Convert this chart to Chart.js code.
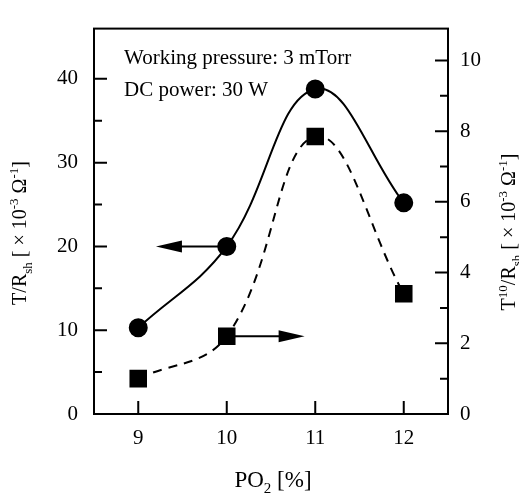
<!DOCTYPE html>
<html>
<head>
<meta charset="utf-8">
<script src="https://cdn.jsdelivr.net/npm/chart.js@4/dist/chart.umd.min.js"></script>
<style>
  body { margin: 0; background: #fff; }
  canvas { display: block; }
</style>
</head>
<body>
<canvas id="grafico" width="519" height="495"></canvas>
<script>
// data
const oxygen = [9, 10, 11, 12];              // PO2 [%]
const transRatio = [10.3, 20, 38.8, 25.2];   // T/Rsh, left axis
const transRatio10 = [1.0, 2.2, 7.85, 3.4];  // T^10/Rsh, right axis
const leftTicks = [0, 10, 20, 30, 40];
const leftMinor = [5, 15, 25, 35];
const rightTicks = [0, 2, 4, 6, 8, 10];
const rightMinor = [1, 3, 5, 7, 9];
const notes = ['Working pressure: 3 mTorr', 'DC power: 30 W'];

const serif = '"Liberation Serif", "DejaVu Serif", serif';

function drawRich(ctx, segs, x, y, size) {
    // segs: [text, kind] kind = n | sub | sup ; centred on x, baseline y
    const parts = segs.map(([t, k]) => {
        const s = k === 'n' ? size : Math.round(size * 0.66);
        ctx.font = s + 'px ' + serif;
        return { t, k, s, w: ctx.measureText(t).width };
    });
    const total = parts.reduce((a, p) => a + p.w, 0);
    let cx = x - total / 2;
    parts.forEach(p => {
        ctx.font = p.s + 'px ' + serif;
        let dy = 0;
        if (p.k === 'sub') dy = size * 0.28;
        if (p.k === 'sup') dy = -size * 0.38;
        ctx.fillText(p.t, cx, y + dy);
        cx += p.w;
    });
}

function arrow(ctx, x0, y0, x1, y1) {
    const dir = Math.sign(x1 - x0);
    ctx.beginPath();
    ctx.moveTo(x0, y0);
    ctx.lineTo(x1 - dir * 20, y1);
    ctx.stroke();
    ctx.beginPath();
    ctx.moveTo(x1, y1);
    ctx.lineTo(x1 - dir * 26, y1 - 6);
    ctx.lineTo(x1 - dir * 26, y1 + 6);
    ctx.closePath();
    ctx.fill();
}

const decor = {
    id: 'decor',
    afterDraw(chart) {
        const { ctx, chartArea: a, scales: { x, y, y2 } } = chart;
        ctx.save();
        ctx.strokeStyle = '#000';
        ctx.fillStyle = '#000';
        ctx.lineWidth = 2;
        ctx.strokeRect(a.left, a.top, a.right - a.left, a.bottom - a.top);

        // inward ticks
        ctx.beginPath();
        leftTicks.forEach(v => { const p = y.getPixelForValue(v); ctx.moveTo(a.left, p); ctx.lineTo(a.left + 13, p); });
        leftMinor.forEach(v => { const p = y.getPixelForValue(v); ctx.moveTo(a.left, p); ctx.lineTo(a.left + 8, p); });
        rightTicks.forEach(v => { const p = y2.getPixelForValue(v); ctx.moveTo(a.right, p); ctx.lineTo(a.right - 13, p); });
        rightMinor.forEach(v => { const p = y2.getPixelForValue(v); ctx.moveTo(a.right, p); ctx.lineTo(a.right - 8, p); });
        oxygen.forEach(v => { const p = x.getPixelForValue(v); ctx.moveTo(p, a.bottom); ctx.lineTo(p, a.bottom - 13); });
        ctx.stroke();

        // arrows pointing to each axis
        arrow(ctx, x.getPixelForValue(oxygen[1]), y.getPixelForValue(transRatio[1]),
            x.getPixelForValue(9.2), y.getPixelForValue(transRatio[1]));
        arrow(ctx, x.getPixelForValue(oxygen[1]), y2.getPixelForValue(transRatio10[1]),
            x.getPixelForValue(10.88), y2.getPixelForValue(transRatio10[1]));

        // notes
        ctx.font = '21px ' + serif;
        ctx.textAlign = 'left';
        ctx.textBaseline = 'alphabetic';
        ctx.fillText(notes[0], a.left + 30, a.top + 35);
        ctx.fillText(notes[1], a.left + 30, a.top + 67);

        // axis titles
        drawRich(ctx, [['PO', 'n'], ['2', 'sub'], [' [%]', 'n']], 273, 487, 23);

        ctx.save();
        ctx.translate(26, 233);
        ctx.rotate(-Math.PI / 2);
        drawRich(ctx, [['T/R', 'n'], ['sh', 'sub'], [' [ × 10', 'n'], ['-3', 'sup'], [' Ω', 'n'], ['-1', 'sup'], [']', 'n']], 0, 0, 20);
        ctx.restore();

        ctx.save();
        ctx.translate(515, 232);
        ctx.rotate(-Math.PI / 2);
        drawRich(ctx, [['T', 'n'], ['10', 'sup'], ['/R', 'n'], ['sh', 'sub'], [' [ × 10', 'n'], ['-3', 'sup'], [' Ω', 'n'], ['-1', 'sup'], [']', 'n']], 0, 0, 20);
        ctx.restore();

        ctx.restore();
    }
};

const tickFont = { family: serif, size: 21 };

new Chart(document.getElementById('grafico'), {
    type: 'line',
    data: {
        datasets: [{
            label: 'T/Rsh',
            data: oxygen.map((v, i) => ({ x: v, y: transRatio[i] })),
            yAxisID: 'y',
            borderColor: '#000',
            backgroundColor: '#000',
            borderWidth: 2,
            tension: 0.4,
            pointStyle: 'circle',
            pointRadius: 8.5,
            pointBackgroundColor: '#000'
        }, {
            label: 'T10/Rsh',
            data: oxygen.map((v, i) => ({ x: v, y: transRatio10[i] })),
            yAxisID: 'y2',
            borderColor: '#000',
            backgroundColor: '#000',
            borderWidth: 2,
            borderDash: [9, 7],
            tension: 0.4,
            pointStyle: 'rect',
            pointRadius: 11,
            pointBackgroundColor: '#000'
        }]
    },
    options: {
        responsive: false,
        animation: false,
        layout: { padding: { top: 13 } },
        plugins: {
            legend: { display: false },
            tooltip: { enabled: false }
        },
        scales: {
            x: {
                type: 'linear',
                min: 8.5,
                max: 12.5,
                afterBuildTicks: s => { s.ticks = oxygen.map(v => ({ value: v })); },
                afterFit: s => { s.height = 81; },
                grid: { display: false, drawTicks: false },
                border: { display: false },
                ticks: { color: '#000', font: tickFont, padding: 12 }
            },
            y: {
                position: 'left',
                min: 0,
                max: 46,
                afterBuildTicks: s => { s.ticks = leftTicks.map(v => ({ value: v })); },
                afterFit: s => { s.width = 94; },
                grid: { display: false, drawTicks: false },
                border: { display: false },
                ticks: { color: '#000', font: tickFont, padding: 16 }
            },
            y2: {
                position: 'right',
                min: 0,
                max: 10.9,
                afterBuildTicks: s => { s.ticks = rightTicks.map(v => ({ value: v })); },
                afterFit: s => { s.width = 71; },
                grid: { display: false, drawTicks: false },
                border: { display: false },
                ticks: { color: '#000', font: tickFont, padding: 12 }
            }
        }
    },
    plugins: [decor]
});
</script>
</body>
</html>
